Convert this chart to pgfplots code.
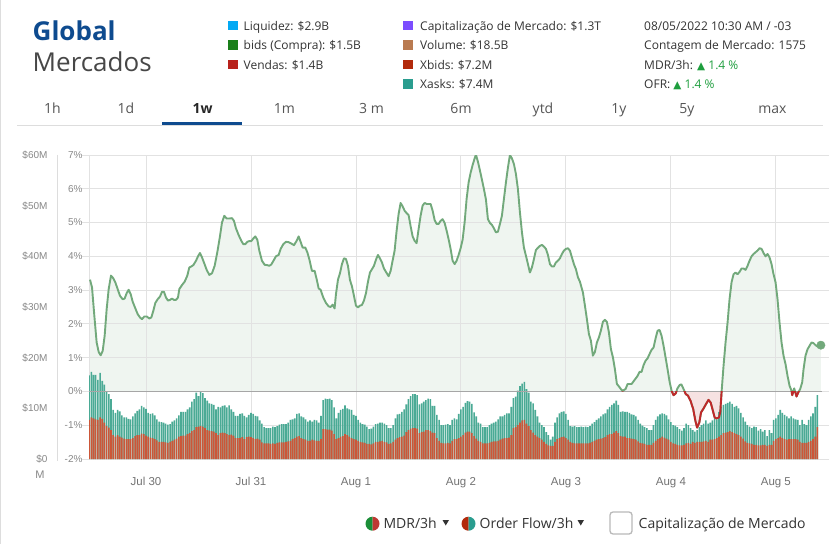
\documentclass[border=0pt]{standalone}
\usepackage{pgfplots}
\pgfplotsset{compat=1.18}
\usepackage{pgfplotstable}
\usepackage{fontspec}
\setmainfont{Open Sans}
\newfontfamily\ticks{Liberation Sans}
\newfontfamily\sym{DejaVu Sans}

\definecolor{hdrblue}{HTML}{0E4B8F}
\definecolor{mercgray}{HTML}{474747}
\definecolor{txt}{HTML}{333333}
\definecolor{tabtxt}{HTML}{555555}
\definecolor{sepgray}{HTML}{DDDDDD}
\definecolor{gridgray}{HTML}{E2E2E2}
\definecolor{zerogray}{HTML}{A6A6A6}
\definecolor{tickgray}{HTML}{888888}
\definecolor{posfill}{HTML}{EFF5F0}
\definecolor{negfill}{HTML}{F6E2E2}
\definecolor{mdrgreen}{HTML}{72A97B}
\definecolor{mdrred}{HTML}{C0282A}
\definecolor{askteal}{HTML}{4AAA95}
\definecolor{bidred}{HTML}{CC5638}
\definecolor{upgreen}{HTML}{1E9E3E}
\definecolor{sqblue}{HTML}{03A9F4}
\definecolor{sqgreen}{HTML}{1A7F1A}
\definecolor{sqred}{HTML}{B8221C}
\definecolor{sqpurple}{HTML}{7C4DFF}
\definecolor{sqbrown}{HTML}{B97A50}
\definecolor{sqxbid}{HTML}{B22A0C}
\definecolor{sqteal}{HTML}{2A9D8F}

% MDR/3h in %, hours since Jul 30 00:00
\pgfplotstableread[row sep=\\]{
h p\\
-12.80 3.31\\ -12.34 3.08\\ -11.81 2.24\\ -11.28 1.45\\ -10.82 1.17\\ -10.36 1.07\\ -9.90 1.20\\ -9.45 1.65\\
-8.99 2.44\\ -8.53 3.03\\ -8.00 3.43\\ -7.47 3.35\\ -7.01 3.23\\ -6.48 3.03\\ -5.94 2.83\\ -5.33 2.73\\
-4.88 2.75\\ -4.42 2.91\\ -3.96 3.01\\ -3.50 2.88\\ -3.05 2.66\\ -2.44 2.46\\ -1.90 2.29\\ -1.37 2.19\\
-0.91 2.14\\ -0.38 2.22\\ 0.15 2.22\\ 0.76 2.16\\ 1.22 2.19\\ 1.68 2.39\\ 2.13 2.62\\ 2.67 2.73\\
3.20 2.81\\ 3.66 2.95\\ 4.11 2.95\\ 4.57 2.78\\ 5.03 2.69\\ 5.49 2.71\\ 5.94 2.75\\ 6.40 2.71\\
6.86 2.71\\ 7.31 2.78\\ 7.62 3.03\\ 8.23 3.15\\ 8.84 3.25\\ 9.45 3.43\\ 9.90 3.67\\ 10.36 3.70\\
10.82 3.74\\ 11.43 3.87\\ 11.89 4.00\\ 12.34 4.10\\ 12.80 3.97\\ 13.33 3.79\\ 13.87 3.60\\ 14.48 3.45\\
15.09 3.50\\ 15.70 3.72\\ 16.30 4.12\\ 16.91 4.59\\ 17.37 5.00\\ 17.90 5.20\\ 18.44 5.12\\ 19.05 5.12\\
19.66 5.13\\ 20.11 5.05\\ 20.57 4.83\\ 21.18 4.63\\ 21.79 4.46\\ 22.25 4.36\\ 22.70 4.36\\ 23.16 4.43\\
23.62 4.45\\ 24.08 4.45\\ 24.53 4.53\\ 24.99 4.59\\ 25.45 4.49\\ 25.90 4.17\\ 26.51 3.87\\ 27.12 3.75\\
27.73 3.74\\ 28.19 3.72\\ 28.65 3.76\\ 29.10 3.86\\ 29.71 4.00\\ 30.32 4.04\\ 30.78 4.22\\ 31.39 4.36\\
32.00 4.43\\ 32.61 4.42\\ 33.22 4.38\\ 33.83 4.33\\ 34.44 4.46\\ 34.90 4.59\\ 35.35 4.43\\ 35.81 4.26\\
36.42 4.26\\ 36.88 4.12\\ 37.33 3.92\\ 37.94 3.57\\ 38.55 3.57\\ 39.01 3.33\\ 39.47 3.05\\ 39.92 3.01\\
40.53 2.78\\ 41.14 2.62\\ 41.75 2.52\\ 42.21 2.50\\ 42.67 2.57\\ 43.12 2.46\\ 43.43 2.88\\ 43.89 3.31\\
44.35 3.50\\ 44.80 3.77\\ 45.26 3.94\\ 45.72 3.92\\ 46.17 3.72\\ 46.63 3.30\\ 47.09 3.11\\ 47.55 2.83\\
48.00 2.54\\ 48.46 2.49\\ 48.92 2.54\\ 49.37 2.56\\ 49.83 2.69\\ 50.29 2.91\\ 50.75 3.25\\ 51.20 3.52\\
51.66 3.62\\ 52.12 3.72\\ 52.57 3.90\\ 53.03 4.04\\ 53.49 3.94\\ 53.95 3.82\\ 54.40 3.64\\ 54.86 3.54\\
55.47 3.41\\ 55.93 3.57\\ 56.38 3.87\\ 56.84 4.17\\ 57.30 4.76\\ 57.75 5.25\\ 58.21 5.58\\ 58.67 5.48\\
59.13 5.35\\ 59.58 5.28\\ 60.04 5.22\\ 60.50 4.89\\ 60.96 4.59\\ 61.41 4.46\\ 61.87 4.39\\ 62.33 4.81\\
62.78 5.20\\ 63.24 5.50\\ 63.70 5.58\\ 64.16 5.55\\ 64.61 5.55\\ 65.07 5.55\\ 65.53 5.35\\ 65.98 5.08\\
66.44 4.96\\ 66.90 4.96\\ 67.36 5.05\\ 67.81 5.10\\ 68.27 4.99\\ 68.73 4.76\\ 69.18 4.51\\ 69.64 4.22\\
70.10 3.87\\ 70.56 3.77\\ 71.01 3.87\\ 71.47 4.04\\ 71.93 4.24\\ 72.38 4.49\\ 72.84 5.00\\ 73.30 5.70\\
73.76 6.19\\ 74.21 6.47\\ 74.67 6.70\\ 75.13 6.90\\ 75.43 7.01\\ 75.89 6.80\\ 76.35 6.54\\ 76.80 6.27\\
77.26 5.99\\ 77.72 5.68\\ 78.17 5.10\\ 78.63 4.99\\ 79.09 4.93\\ 79.55 4.83\\ 80.00 4.71\\ 80.46 4.73\\
80.92 4.96\\ 81.37 5.20\\ 81.83 5.70\\ 82.29 6.19\\ 82.75 6.63\\ 83.20 7.00\\ 83.66 6.90\\ 84.12 6.73\\
84.57 6.44\\ 85.03 5.99\\ 85.49 5.30\\ 85.95 4.71\\ 86.40 4.26\\ 86.86 4.02\\ 87.32 3.77\\ 87.77 3.52\\
88.23 3.67\\ 88.69 3.92\\ 89.15 4.19\\ 89.60 4.25\\ 90.06 4.31\\ 90.52 4.34\\ 90.97 4.29\\ 91.43 4.22\\
91.89 4.04\\ 92.35 3.77\\ 92.80 3.70\\ 93.26 3.70\\ 93.72 3.82\\ 94.17 3.87\\ 94.63 3.94\\ 95.09 4.07\\
95.55 4.17\\ 96.00 4.22\\ 96.46 4.24\\ 96.92 4.17\\ 97.37 3.97\\ 97.83 3.77\\ 98.29 3.62\\ 98.75 3.38\\
99.20 3.25\\ 99.89 2.93\\ 100.35 2.54\\ 100.80 2.14\\ 101.26 1.70\\ 101.72 1.50\\ 102.17 1.06\\ 102.63 1.17\\
103.09 1.45\\ 103.55 1.60\\ 104.00 1.80\\ 104.46 2.06\\ 104.92 2.12\\ 105.37 2.06\\ 105.83 1.75\\ 106.29 1.25\\
106.75 1.01\\ 107.20 0.66\\ 107.66 0.22\\ 108.12 0.15\\ 108.57 0.07\\ 108.96 0.02\\ 109.64 0.07\\ 110.10 0.22\\
110.56 0.22\\ 111.01 0.22\\ 111.47 0.30\\ 111.93 0.38\\ 112.38 0.46\\ 112.84 0.58\\ 113.30 0.58\\ 113.76 0.78\\
114.21 0.91\\ 114.67 0.98\\ 115.13 1.11\\ 115.58 1.23\\ 116.04 1.30\\ 116.50 1.57\\ 116.96 1.80\\ 117.41 1.82\\
117.87 1.65\\ 118.33 1.35\\ 118.78 1.01\\ 119.24 0.66\\ 119.70 0.29\\ 120.16 0.02\\ 120.60 -0.11\\ 121.10 -0.06\\
121.50 0.09\\ 122.00 0.19\\ 122.40 0.21\\ 122.90 0.07\\ 123.40 -0.08\\ 123.90 -0.12\\ 124.50 -0.28\\ 125.10 -0.52\\
125.60 -0.87\\ 126.00 -1.07\\ 126.50 -0.92\\ 126.90 -0.62\\ 127.40 -0.52\\ 128.00 -0.38\\ 128.60 -0.25\\ 129.10 -0.33\\
129.50 -0.52\\ 130.00 -0.77\\ 130.40 -0.80\\ 131.00 -0.77\\ 131.30 -0.60\\ 131.60 0.00\\ 132.04 0.76\\ 132.50 1.45\\
132.96 2.04\\ 133.41 2.73\\ 133.87 3.23\\ 134.33 3.47\\ 134.78 3.52\\ 135.24 3.47\\ 135.70 3.54\\ 136.16 3.64\\
136.61 3.64\\ 137.07 3.60\\ 137.53 3.72\\ 137.98 3.87\\ 138.44 4.00\\ 138.90 4.07\\ 139.35 4.12\\ 139.81 4.17\\
140.27 4.24\\ 140.73 4.22\\ 141.18 4.10\\ 141.64 4.00\\ 142.10 4.07\\ 142.55 3.97\\ 143.01 3.77\\ 143.47 3.47\\
143.93 3.23\\ 144.38 2.73\\ 144.84 2.04\\ 145.30 1.45\\ 145.75 1.06\\ 146.21 0.81\\ 146.67 0.46\\ 147.13 0.17\\
147.58 0.02\\ 147.74 -0.11\\ 148.19 0.09\\ 148.73 -0.15\\ 149.11 -0.03\\ 149.56 0.07\\ 150.02 0.27\\ 150.33 0.66\\
150.78 1.06\\ 151.24 1.25\\ 151.70 1.35\\ 152.15 1.45\\ 152.61 1.43\\ 153.07 1.37\\ 153.53 1.33\\ 154.29 1.37\\
}\mdr

% order flow bars in $M every 30 min: t = asks top, r = bids (red) top
\pgfplotstableread[row sep=\\]{
h t r\\
-13.0 16.5 7.7\\ -12.5 17.2 8.2\\ -12.0 16.6 8.0\\ -11.5 16.6 7.8\\ -11.0 15.6 7.7\\ -10.5 17.0 8.2\\ -10.0 15.4 7.9\\ -9.5 14.7 7.2\\
-9.0 13.4 6.5\\ -8.5 12.8 6.2\\ -8.0 11.8 5.7\\ -7.5 9.7 4.7\\ -7.0 9.1 4.4\\ -6.5 9.7 4.7\\ -6.0 9.4 4.4\\ -5.5 8.6 4.2\\
-5.0 8.2 4.0\\ -4.5 8.2 3.9\\ -4.0 7.9 3.9\\ -3.5 7.8 3.9\\ -3.0 8.4 4.1\\ -2.5 9.0 4.5\\ -2.0 9.5 4.7\\ -1.5 9.8 4.7\\
-1.0 10.5 5.0\\ -0.5 10.2 4.9\\ 0.0 9.9 4.6\\ 0.5 9.1 4.4\\ 1.0 8.9 4.2\\ 1.5 9.0 4.1\\ 2.0 8.6 3.9\\ 2.5 7.8 3.7\\
3.0 7.4 3.4\\ 3.5 7.3 3.4\\ 4.0 7.2 3.4\\ 4.5 7.0 3.3\\ 5.0 6.8 3.2\\ 5.5 6.9 3.4\\ 6.0 7.4 3.6\\ 6.5 7.6 3.8\\
7.0 8.0 4.0\\ 7.5 8.6 4.4\\ 8.0 9.3 4.5\\ 8.5 9.3 4.6\\ 9.0 9.3 4.6\\ 9.5 9.8 4.9\\ 10.0 10.2 5.1\\ 10.5 11.3 5.5\\
11.0 11.8 5.7\\ 11.5 13.1 6.3\\ 12.0 12.4 6.4\\ 12.5 13.4 6.5\\ 13.0 13.0 6.4\\ 13.5 12.0 6.1\\ 14.0 11.5 5.7\\ 14.5 11.0 5.6\\
15.0 10.9 5.5\\ 15.5 10.7 5.4\\ 16.0 9.8 5.1\\ 16.5 10.3 4.7\\ 17.0 10.2 5.1\\ 17.5 10.5 5.2\\ 18.0 10.6 5.1\\ 18.5 10.2 4.9\\
19.0 10.6 4.7\\ 19.5 9.8 4.8\\ 20.0 9.3 4.6\\ 20.5 8.5 4.1\\ 21.0 8.5 4.1\\ 21.5 8.9 4.1\\ 22.0 9.0 4.3\\ 22.5 8.5 3.9\\
23.0 8.2 4.3\\ 23.5 8.7 4.4\\ 24.0 9.1 4.3\\ 24.5 8.9 4.1\\ 25.0 8.5 3.9\\ 25.5 8.4 4.0\\ 26.0 7.6 3.8\\ 26.5 7.0 3.3\\
27.0 6.3 3.1\\ 27.5 6.1 3.1\\ 28.0 6.1 3.1\\ 28.5 6.1 3.0\\ 29.0 6.4 3.1\\ 29.5 6.3 3.0\\ 30.0 6.5 3.2\\ 30.5 6.8 3.3\\
31.0 6.9 3.3\\ 31.5 6.9 3.3\\ 32.0 6.9 3.4\\ 32.5 7.2 3.5\\ 33.0 7.7 3.6\\ 33.5 7.8 3.9\\ 34.0 8.0 4.1\\ 34.5 8.9 4.4\\
35.0 9.0 4.5\\ 35.5 8.4 4.1\\ 36.0 8.2 3.9\\ 36.5 7.8 3.8\\ 37.0 7.4 3.6\\ 37.5 7.6 3.6\\ 38.0 7.4 3.8\\ 38.5 7.7 3.7\\
39.0 7.6 3.6\\ 39.5 7.2 3.6\\ 40.0 8.5 3.9\\ 40.5 11.6 5.9\\ 41.0 11.9 5.9\\ 41.5 11.8 5.8\\ 42.0 11.9 5.8\\ 42.5 11.6 5.6\\
43.0 10.2 4.9\\ 43.5 8.0 3.9\\ 44.0 9.1 4.1\\ 44.5 9.7 4.4\\ 45.0 9.9 4.5\\ 45.5 10.6 4.9\\ 46.0 10.0 4.7\\ 46.5 9.8 4.4\\
47.0 9.7 4.1\\ 47.5 8.7 3.9\\ 48.0 8.5 3.8\\ 48.5 7.7 3.6\\ 49.0 7.2 3.4\\ 49.5 6.9 3.3\\ 50.0 6.8 3.2\\ 50.5 6.4 3.0\\
51.0 5.9 3.0\\ 51.5 6.0 2.9\\ 52.0 6.4 3.1\\ 52.5 6.9 3.4\\ 53.0 7.0 3.4\\ 53.5 7.2 3.5\\ 54.0 7.2 3.6\\ 54.5 7.0 3.4\\
55.0 6.7 3.3\\ 55.5 6.1 3.0\\ 56.0 6.1 3.1\\ 56.5 6.7 3.4\\ 57.0 8.0 3.8\\ 57.5 8.8 4.1\\ 58.0 8.9 4.3\\ 58.5 9.3 4.4\\
59.0 9.8 4.6\\ 59.5 10.8 5.3\\ 60.0 11.8 5.7\\ 60.5 12.4 6.0\\ 61.0 12.8 6.1\\ 61.5 12.8 6.1\\ 62.0 12.6 6.0\\ 62.5 10.8 5.1\\
63.0 11.0 5.3\\ 63.5 11.3 5.4\\ 64.0 11.6 5.7\\ 64.5 11.9 5.7\\ 65.0 11.8 5.5\\ 65.5 10.5 5.2\\ 66.0 10.5 5.1\\ 66.5 8.7 4.1\\
67.0 7.7 3.6\\ 67.5 6.7 3.2\\ 68.0 6.7 3.1\\ 68.5 6.8 3.1\\ 69.0 6.9 3.2\\ 69.5 6.7 3.1\\ 70.0 7.7 3.6\\ 70.5 8.0 3.9\\
71.0 7.8 3.9\\ 71.5 8.9 4.1\\ 72.0 9.8 4.4\\ 72.5 10.3 4.7\\ 73.0 11.1 5.2\\ 73.5 11.4 5.4\\ 74.0 11.3 5.4\\ 74.5 10.9 5.1\\
75.0 9.2 4.5\\ 75.5 8.4 4.0\\ 76.0 7.2 3.6\\ 76.5 7.0 3.4\\ 77.0 6.3 3.1\\ 77.5 6.3 3.1\\ 78.0 6.3 3.1\\ 78.5 6.7 3.2\\
79.0 7.0 3.4\\ 79.5 7.2 3.5\\ 80.0 7.4 3.5\\ 80.5 7.8 3.6\\ 81.0 8.4 3.8\\ 81.5 8.4 4.0\\ 82.0 8.7 4.1\\ 82.5 9.0 4.1\\
83.0 9.0 4.2\\ 83.5 10.3 4.7\\ 84.0 12.0 6.1\\ 84.5 12.3 6.3\\ 85.0 13.5 6.7\\ 85.5 14.4 7.2\\ 86.0 14.9 7.6\\ 86.5 15.2 7.7\\
87.0 13.8 7.0\\ 87.5 13.1 6.5\\ 88.0 11.3 5.7\\ 88.5 11.0 5.2\\ 89.0 9.7 4.7\\ 89.5 8.4 4.4\\ 90.0 7.2 4.1\\ 90.5 6.7 3.8\\
91.0 6.3 3.4\\ 91.5 5.3 3.0\\ 92.0 4.7 2.7\\ 92.5 3.8 2.6\\ 93.0 4.4 2.6\\ 93.5 7.2 3.4\\ 94.0 8.2 3.9\\ 94.5 9.0 4.1\\
95.0 9.3 4.3\\ 95.5 9.4 4.4\\ 96.0 8.9 4.1\\ 96.5 7.7 3.8\\ 97.0 6.5 3.4\\ 97.5 6.4 3.2\\ 98.0 6.5 3.1\\ 98.5 6.3 3.1\\
99.0 6.3 3.1\\ 99.5 6.4 3.1\\ 100.0 6.3 3.1\\ 100.5 6.4 3.1\\ 101.0 6.3 3.1\\ 101.5 6.5 3.2\\ 102.0 7.0 3.4\\ 102.5 7.3 3.6\\
103.0 7.7 3.8\\ 103.5 8.0 3.9\\ 104.0 8.4 4.0\\ 104.5 8.8 4.1\\ 105.0 9.0 4.3\\ 105.5 9.8 4.7\\ 106.0 10.3 4.9\\ 106.5 10.7 4.9\\
107.0 11.0 5.2\\ 107.5 11.5 5.5\\ 108.0 10.7 5.1\\ 108.5 9.3 4.5\\ 109.0 9.4 4.4\\ 109.5 9.3 4.4\\ 110.0 9.3 4.1\\ 110.5 9.1 4.1\\
111.0 8.8 4.0\\ 111.5 8.7 3.9\\ 112.0 8.4 3.8\\ 112.5 7.7 3.5\\ 113.0 7.0 3.2\\ 113.5 6.6 3.1\\ 114.0 6.3 3.0\\ 114.5 6.1 2.8\\
115.0 5.7 2.8\\ 115.5 5.7 2.8\\ 116.0 6.7 3.2\\ 116.5 7.7 3.6\\ 117.0 8.4 3.9\\ 117.5 8.8 4.1\\ 118.0 9.0 4.4\\ 118.5 8.9 4.2\\
119.0 8.6 4.0\\ 119.5 7.8 3.8\\ 120.0 7.3 3.4\\ 120.5 6.7 3.1\\ 121.0 6.6 3.0\\ 121.5 6.3 2.8\\ 122.0 5.9 2.7\\ 122.5 5.6 2.7\\
123.0 6.1 2.8\\ 123.5 7.0 3.1\\ 124.0 6.7 3.2\\ 124.5 6.1 3.0\\ 125.0 5.7 3.4\\ 125.5 5.4 3.2\\ 126.0 5.7 3.4\\ 126.5 6.3 3.4\\
127.0 6.7 3.4\\ 127.5 7.0 3.5\\ 128.0 7.6 3.6\\ 128.5 7.0 3.4\\ 129.0 7.2 3.8\\ 129.5 7.6 3.8\\ 130.0 8.0 3.9\\ 130.5 7.8 4.1\\
131.0 9.3 4.4\\ 131.5 10.3 4.7\\ 132.0 10.7 5.1\\ 132.5 10.9 5.2\\ 133.0 11.1 5.3\\ 133.5 11.3 5.5\\ 134.0 10.9 5.3\\ 134.5 10.3 5.1\\
135.0 10.5 4.9\\ 135.5 10.0 4.7\\ 136.0 9.1 4.4\\ 136.5 8.2 4.0\\ 137.0 7.4 3.5\\ 137.5 6.7 3.2\\ 138.0 6.4 3.1\\ 138.5 6.1 3.0\\
139.0 6.4 2.8\\ 139.5 6.3 2.8\\ 140.0 5.6 2.7\\ 140.5 5.9 2.7\\ 141.0 5.4 2.8\\ 141.5 5.7 2.8\\ 142.0 4.5 2.6\\ 142.5 5.7 2.8\\
143.0 5.1 2.8\\ 143.5 7.7 3.6\\ 144.0 8.0 3.9\\ 144.5 8.7 4.1\\ 145.0 9.7 4.4\\ 145.5 9.1 4.1\\ 146.0 8.7 3.9\\ 146.5 8.4 3.8\\
147.0 8.0 3.9\\ 147.5 8.4 3.9\\ 148.0 8.0 3.9\\ 148.5 7.8 3.9\\ 149.0 7.7 3.8\\ 149.5 6.7 3.4\\ 150.0 7.7 3.2\\ 150.5 6.9 3.2\\
151.0 6.7 3.2\\ 151.5 7.7 3.4\\ 152.0 8.4 3.6\\ 152.5 9.0 3.9\\ 153.0 10.3 4.4\\ 153.5 12.6 6.3\\
}\bars

\pgfplotsset{panel/.style={at={(89pt,85pt)}, anchor=south west, scale only axis,
  width=733pt, height=304pt, xmin=-13.03, xmax=154.55,
  axis line style={draw=none}, tick style={draw=none}},
  % the part of the panel above 0 % and below 0 %, so each area is clipped at 0
  uppanel/.style={panel, at={(89pt,152.556pt)}, height=236.444pt, ymin=0, ymax=7, hide axis},
  lowpanel/.style={panel, height=67.556pt, ymin=-2, ymax=0, hide axis}}

\begin{document}
\begin{tikzpicture}
\path[use as bounding box, fill=white] (0,0) rectangle (837pt,544pt);

% area under MDR/3h, green above 0 and red below
\begin{axis}[uppanel]
\addplot[fill=posfill, draw=none] table[x=h, y=p]{\mdr} \closedcycle;
\end{axis}
\begin{axis}[lowpanel]
\addplot[fill=negfill, draw=none] table[x=h, y=p]{\mdr} \closedcycle;
\end{axis}

% percent axis: grid and labels
\begin{axis}[panel, ymin=-2, ymax=7, ytick={-2,...,7},
  yticklabels={-2\%,-1\%,0\%,1\%,2\%,3\%,4\%,5\%,6\%,7\%},
  xtick={0,24,...,144}, xticklabels={Jul 30,Jul 31,Aug 1,Aug 2,Aug 3,Aug 4,Aug 5},
  grid=major, major grid style={draw=gridgray, line width=0.9pt},
  yticklabel style={font=\ticks\fontsize{10}{12}\selectfont, text=tickgray, xshift=4pt},
  xticklabel style={font=\ticks\fontsize{11.5}{13}\selectfont, text=black!55, yshift=-8pt},
  ytick style={draw=gridgray, line width=0.9pt}, major tick length=7pt, tick align=outside,
  xtick style={draw=none}]
\draw[gridgray, line width=0.9pt] (rel axis cs:0,0) -- (rel axis cs:0,1);
\end{axis}

% dollar axis: order flow bars
\begin{axis}[panel, ymin=0, ymax=60, ytick={0,10,...,60},
  yticklabels={\$0,\$10M,\$20M,\$30M,\$40M,\$50M,\$60M}, xtick=\empty,
  yticklabel style={font=\ticks\fontsize{10}{12}\selectfont, text=tickgray, xshift=-38pt}]
\addplot[ybar, bar width=1.6pt, bar shift=0pt, fill=askteal, draw=none] table[x=h, y=t]{\bars};
\addplot[ybar, bar width=1.6pt, bar shift=0pt, fill=bidred, draw=none] table[x=h, y=r]{\bars};
\end{axis}

% MDR/3h line
\begin{axis}[panel, ymin=-2, ymax=7, hide axis]
\draw[zerogray, line width=0.9pt] (axis cs:-13.03,0) -- (axis cs:154.55,0);
\addplot[mdrgreen, line width=1.9pt, line join=round] table[x=h, y=p]{\mdr};
\addplot[only marks, mark=*, mark size=4.2pt, mark options={fill=mdrgreen, draw=mdrgreen}] coordinates {(154.29,1.37)};
\end{axis}
\begin{axis}[lowpanel]
\addplot[mdrred, line width=1.9pt, line join=round] table[x=h, y=p]{\mdr};
\end{axis}

\begin{scope}[shift={(0,544pt)}, x=1pt, y=-1pt]
\draw[sepgray, line width=1pt] (0.5,0) -- (0.5,544);
\draw[sepgray, line width=0.9pt] (57.3,155) -- (57.3,461);
\node[anchor=center, font=\ticks\fontsize{11}{13}\selectfont, text=tickgray] at (40,475) {M};

\node[anchor=base west, inner sep=0, font=\bfseries\fontsize{26}{30}\selectfont, text=hdrblue] at (32.5,40.7) {Global};
\node[anchor=base west, inner sep=0, font=\fontsize{26}{30}\selectfont, text=mercgray] at (32.5,71.7) {Mercados};

\fill[sqblue]   (228.3,21.0) rectangle +(9.5,9.5);
\fill[sqgreen]  (228.3,40.4) rectangle +(9.5,9.5);
\fill[sqred]    (228.3,59.8) rectangle +(9.5,9.5);
\fill[sqpurple] (403.3,21.0) rectangle +(9.5,9.5);
\fill[sqbrown]  (403.3,40.4) rectangle +(9.5,9.5);
\fill[sqxbid]   (403.3,59.8) rectangle +(9.5,9.5);
\fill[sqteal]   (403.3,79.2) rectangle +(9.5,9.5);
\begin{scope}[every node/.style={anchor=base west, inner sep=0, font=\fontsize{12}{14}\selectfont, text=txt}]
\node at (243.5,30.5) {Liquidez: \$2.9B};
\node at (243.5,49.9) {bids (Compra): \$1.5B};
\node at (243.5,69.3) {Vendas: \$1.4B};
\node at (420,30.5) {Capitalização de Mercado: \$1.3T};
\node at (420,49.9) {Volume: \$18.5B};
\node at (420,69.3) {Xbids: \$7.2M};
\node at (420,88.7) {Xasks: \$7.4M};
\node at (644,30.5) {08/05/2022 10:30 AM / -03};
\node at (644,49.9) {Contagem de Mercado: 1575};
\node at (644,69.3) {MDR/3h: \textcolor{upgreen}{{\sym\fontsize{10.5}{11}\selectfont ▲} 1.4 \%}};
\node at (644,88.7) {OFR: \textcolor{upgreen}{{\sym\fontsize{10.5}{11}\selectfont ▲} 1.4 \%}};
\end{scope}

\begin{scope}[every node/.style={anchor=base, inner sep=0, font=\fontsize{14}{16}\selectfont, text=tabtxt}]
\node at (52.5,113.3) {1h};
\node at (126,113.3) {1d};
\node[font=\bfseries\fontsize{14}{16}\selectfont, text=black!85] at (202.5,113.3) {1w};
\node at (284.5,113.3) {1m};
\node at (371.5,113.3) {3 m};
\node at (461,113.3) {6m};
\node at (543,113.3) {ytd};
\node at (619,113.3) {1y};
\node at (687,113.3) {5y};
\node at (772.5,113.3) {max};
\end{scope}
\draw[sepgray, line width=1.2pt] (17,125.4) -- (823,125.4);
\fill[hdrblue] (162,121.7) rectangle (242,125.2);

% bottom selectors (y runs downward here, so angle 90 points down)
\fill[upgreen!90!black] (372.5,523.7) -- ++(0,7) arc[start angle=90, end angle=270, radius=7] -- cycle;
\fill[sqred!90] (372.5,523.7) -- ++(0,7) arc[start angle=90, end angle=-90, radius=7] -- cycle;
\fill[sqxbid] (468.5,523.7) -- ++(0,7) arc[start angle=90, end angle=270, radius=7] -- cycle;
\fill[sqteal] (468.5,523.7) -- ++(0,7) arc[start angle=90, end angle=-90, radius=7] -- cycle;
\begin{scope}[every node/.style={anchor=base west, inner sep=0, font=\fontsize{14}{16}\selectfont, text=txt}]
\node at (383.3,528.3) {MDR/3h};
\node at (479.5,528.3) {Order Flow/3h};
\node at (638.5,528.3) {Capitalização de Mercado};
\end{scope}
\fill[txt] (442.5,520) -- (449,520) -- (445.75,525.5) -- cycle;
\fill[txt] (577.5,520) -- (584,520) -- (580.75,525.5) -- cycle;
\draw[gray!55, line width=1.3pt, rounded corners=3pt] (610,512) rectangle (632,534);
\end{scope}
\end{tikzpicture}
\end{document}
